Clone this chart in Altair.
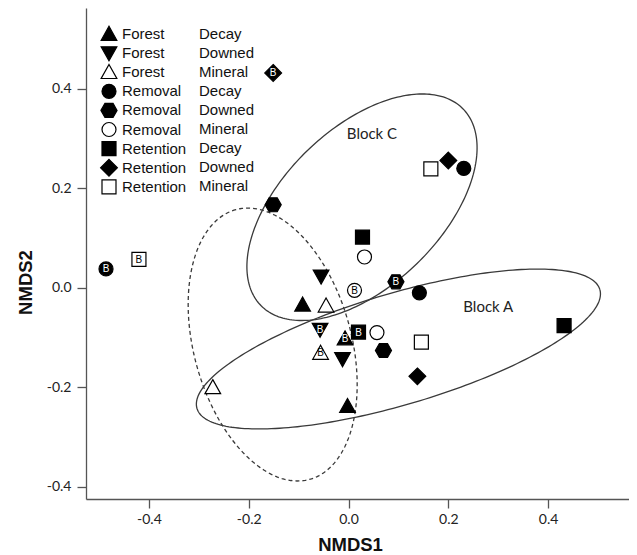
import altair as alt
import numpy as np
import pandas as pd

# ---- categories ----
groups = ["Forest Decay", "Forest Downed", "Forest Mineral",
          "Removal Decay", "Removal Downed", "Removal Mineral",
          "Retention Decay", "Retention Downed", "Retention Mineral"]
substrate_keys = ["0 Decay", "1 Downed", "2 Mineral", "3 Decay", "4 Downed", "5 Mineral",
                  "6 Decay", "7 Downed", "8 Mineral"]
fill_colors = ["black", "black", "white", "black", "black", "white", "black", "black", "white"]
DIAMOND = "M0,-1.2L1.2,0L0,1.2L-1.2,0Z"
shape_paths = [
    "M0,-1.1L1.12,0.9L-1.12,0.9Z",            # triangle up
    "M0,1.1L1.12,-0.9L-1.12,-0.9Z",           # triangle down
    "M0,-1.1L1.12,0.9L-1.12,0.9Z",            # triangle up (open)
    "circle",
    "M-1.15,0L-0.58,-1L0.58,-1L1.15,0L0.58,1L-0.58,1Z",  # hexagon
    "circle",
    "M-1,-1L1,-1L1,1L-1,1Z",                  # square
    DIAMOND,                                  # diamond
    "M-1,-1L1,-1L1,1L-1,1Z",
]

# ---- NMDS scores per block (order = groups) ----
nmds1_A = [-0.002, -0.012, -0.272, 0.142, 0.070, 0.057, 0.432, 0.138, 0.146]
nmds2_A = [-0.238, -0.143, -0.200, -0.010, -0.126, -0.090, -0.076, -0.178, -0.109]
nmds1_B = [-0.007, -0.057, -0.056, -0.486, 0.095, 0.012, 0.020, -0.151, -0.420]
nmds2_B = [-0.102, -0.084, -0.131, 0.038, 0.012, -0.005, -0.089, 0.432, 0.057]
nmds1_C = [-0.092, -0.055, -0.045, 0.231, -0.151, 0.032, 0.028, 0.200, 0.165]
nmds2_C = [-0.034, 0.023, -0.036, 0.240, 0.167, 0.062, 0.102, 0.256, 0.239]

# ---- block ellipses (centre, semi-axes, rotation in degrees) ----
ell_names = ["Block A", "Block C", "Block B"]
ell_cx = [0.100, 0.027, -0.152]
ell_cy = [-0.123, 0.162, -0.114]
ell_a = [0.421, 0.283, 0.281]
ell_b = [0.112, 0.158, 0.158]
ell_angle = [16.5, 44.3, 105.2]
ell_dashed = [False, False, True]

# ---- annotations ----
block_labels = ["Block C", "Block A"]
block_label_x = [0.047, 0.280]
block_label_y = [0.310, -0.038]

# ---- build tables ----
rows = []
for blk, xs, ys in [("A", nmds1_A, nmds2_A), ("B", nmds1_B, nmds2_B), ("C", nmds1_C, nmds2_C)]:
    for g, sk, fc, x, y in zip(groups, substrate_keys, fill_colors, xs, ys):
        rows.append({"x": x, "y": y, "grp": g, "sub": sk, "block": blk,
                     "tcol": "white" if fc == "black" else "black"})
pts_df = pd.DataFrame(rows)

erows = []
t = np.linspace(0, 2 * np.pi, 241)
for name, cx, cy, a, b, ang, dsh in zip(ell_names, ell_cx, ell_cy, ell_a, ell_b, ell_angle, ell_dashed):
    th = np.deg2rad(ang)
    ex = cx + a * np.cos(t) * np.cos(th) - b * np.sin(t) * np.sin(th)
    ey = cy + a * np.cos(t) * np.sin(th) + b * np.sin(t) * np.cos(th)
    for i, (xx, yy) in enumerate(zip(ex, ey)):
        erows.append({"x": xx, "y": yy, "ell": name, "ord": i, "dashed": dsh})
ell_df = pd.DataFrame(erows)

lab_df = pd.DataFrame({"x": block_label_x, "y": block_label_y, "label": block_labels})

label_expr = "(datum.value < 0 ? '-' : '') + format(abs(datum.value), '.1f')"
xscale = alt.Scale(domain=[-0.5261, 0.5621], nice=False, zero=False)
yscale = alt.Scale(domain=[-0.4245, 0.5625], nice=False, zero=False)

axis_common = dict(grid=False, tickSize=9, labelFont="Lato", labelFontSize=14, labelColor="#222",
                   domainColor="#555", tickColor="#555", domainWidth=1.3, tickWidth=1.3,
                   titleFont="Liberation Sans", titleFontWeight="bold", titleFontSize=18.5,
                   titleColor="#111", titleBaseline="middle", titleAlign="center",
                   labelExpr=label_expr)

X = alt.X("x:Q", scale=xscale,
          axis=alt.Axis(values=[-0.4, -0.2, 0.0, 0.2, 0.4], title="NMDS1", labelPadding=4,
                        titleX=264, titleY=45, **axis_common))
Y = alt.Y("y:Q", scale=yscale,
          axis=alt.Axis(values=[-0.4, -0.2, 0.0, 0.2, 0.4], title="NMDS2", labelPadding=6,
                        titleX=-61, titleY=274, titleAngle=270, **axis_common))

ell_solid = alt.Chart(ell_df[~ell_df["dashed"]]).mark_line(color="#3a3a3a", strokeWidth=1.3).encode(
    x=X, y=Y, detail="ell:N", order="ord:Q")
ell_dash = alt.Chart(ell_df[ell_df["dashed"]]).mark_line(color="#3a3a3a", strokeWidth=1.3,
                                                       strokeDash=[4, 3]).encode(
    x=X, y=Y, detail="ell:N", order="ord:Q")

leg_common = dict(title=None, orient="none", legendY=18, padding=0, labelFont="Liberation Sans",
                  labelFontSize=15, labelColor="#111", labelLimit=300, labelOffset=5,
                  symbolSize=196, gridAlign="all")
leg1 = alt.Legend(legendX=15, labelExpr="split(datum.label, ' ')[0]", rowPadding=-2.9,
                  symbolStrokeWidth=1.2, symbolOpacity=1, **leg_common)
leg2 = alt.Legend(legendX=93, labelExpr="split(datum.label, ' ')[1]", rowPadding=2.1,
                  symbolType=DIAMOND, symbolStrokeWidth=0, **leg_common)

pts = alt.Chart(pts_df).mark_point(filled=False, strokeWidth=1.2, size=196, opacity=1).encode(
    x=X, y=Y,
    shape=alt.Shape("grp:N", sort=groups, scale=alt.Scale(domain=groups, range=shape_paths), legend=leg1),
    fill=alt.Fill("grp:N", sort=groups, scale=alt.Scale(domain=groups, range=fill_colors), legend=leg1),
    stroke=alt.Stroke("grp:N", sort=groups, scale=alt.Scale(domain=groups, range=["black"] * 9), legend=leg1),
)

# invisible layer that carries the second legend column (substrate)
sub_leg = alt.Chart(pts_df).mark_point(opacity=0, size=1).encode(
    x=X, y=Y,
    color=alt.Color("sub:N", sort=substrate_keys,
                    scale=alt.Scale(domain=substrate_keys, range=["transparent"] * 9), legend=leg2),
)

btxt_w = alt.Chart(pts_df[(pts_df["block"] == "B") & (pts_df["tcol"] == "white")]).mark_text(
    text="B", font="Liberation Sans", fontSize=10, align="center", baseline="middle", dy=0.5,
    color="white").encode(x=X, y=Y)
btxt_k = alt.Chart(pts_df[(pts_df["block"] == "B") & (pts_df["tcol"] == "black")]).mark_text(
    text="B", font="Liberation Sans", fontSize=10, align="center", baseline="middle", dy=0.5,
    color="black").encode(x=X, y=Y)

lbl = alt.Chart(lab_df).mark_text(font="Lato", fontSize=15, color="#222", align="center",
                                  baseline="middle").encode(x=X, y=Y, text="label:N")

chart = alt.layer(ell_solid, ell_dash, sub_leg, pts, btxt_w, btxt_k, lbl).properties(
    width=543, height=491,
    padding={"left": 78, "top": 0, "right": 0, "bottom": 55},
    autosize=alt.AutoSizeParams(type="none"),
).configure_view(stroke=None)

chart.save("out.html", embed_options={"renderer": "svg", "actions": False})
